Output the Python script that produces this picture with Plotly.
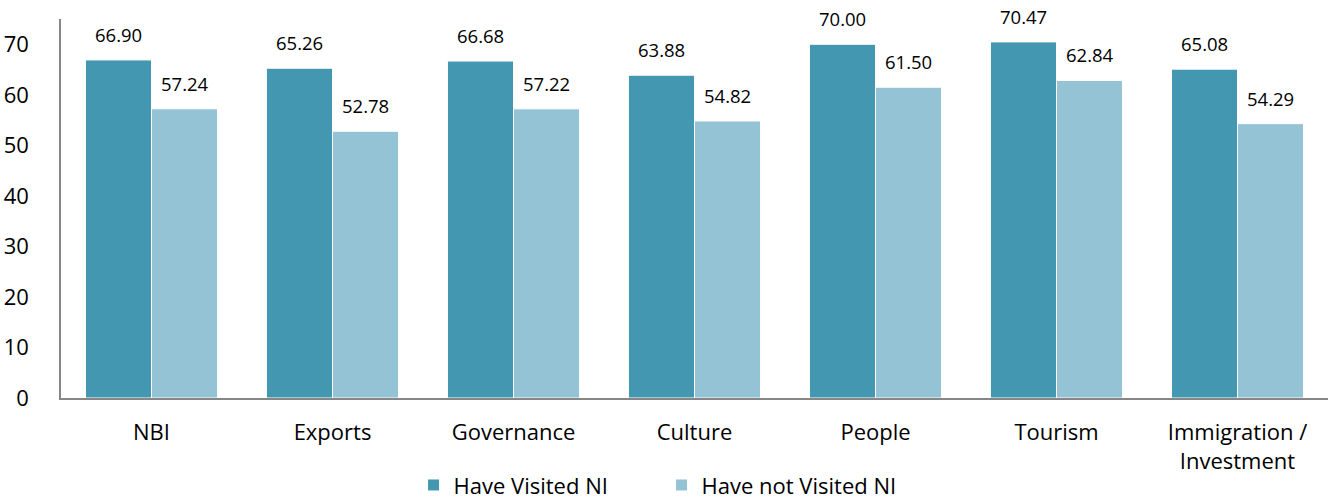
import plotly.graph_objects as go

categories = ["NBI", "Exports", "Governance", "Culture", "People", "Tourism", "Immigration /<br>Investment"]
visited = [66.90, 65.26, 66.68, 63.88, 70.00, 70.47, 65.08]
not_visited = [57.24, 52.78, 57.22, 54.82, 61.50, 62.84, 54.29]
series_names = ["Have Visited NI", "Have not Visited NI"]
colors = ["#4397B0", "#93C3D5"]
y_ticks = [0, 10, 20, 30, 40, 50, 60, 70]

FONT = "Open Sans"

fig = go.Figure()
for name, vals, col in zip(series_names, [visited, not_visited], colors):
    fig.add_trace(go.Bar(
        x=categories, y=vals, name=name,
        marker=dict(color=col, line=dict(color="white", width=1)),
    ))

bar_px = 66
for shift, vals in zip([-bar_px / 2, bar_px / 2], [visited, not_visited]):
    for c, v in zip(categories, vals):
        fig.add_annotation(
            x=c, y=v, text=f"{v:.2f}", showarrow=False,
            xshift=shift, yshift=11, yanchor="bottom",
            font=dict(family=FONT, size=18.5, color="#000000"),
        )

fig.update_layout(
    width=1337, height=501,
    barmode="group", bargap=0.27, bargroupgap=0,
    plot_bgcolor="white", paper_bgcolor="white",
    margin=dict(l=61, r=9, t=19, b=103, autoexpand=False),
    font=dict(family=FONT, size=22, color="#000000"),
    legend=dict(orientation="h", x=0.474, xanchor="center", y=-0.23, yanchor="middle",
                font=dict(family=FONT, size=22), itemwidth=30, traceorder="normal",
                entrywidth=203, entrywidthmode="pixels", tracegroupgap=0),
    showlegend=True,
)
fig.update_xaxes(showline=True, linecolor="#868686", linewidth=1.5, ticks="",
                 automargin=False,
                 tickfont=dict(family=FONT, size=22), ticklabelstandoff=14)
fig.update_yaxes(range=[0, 75], tickvals=y_ticks, showgrid=False, zeroline=False,
                 showline=True, linecolor="#868686", linewidth=1.5, ticks="",
                 automargin=False,
                 tickfont=dict(family=FONT, size=22), ticklabelstandoff=26)

fig.write_html("out.html", config={"displayModeBar": False},
               post_script="document.body.style.margin='0';document.body.style.padding='0';")
